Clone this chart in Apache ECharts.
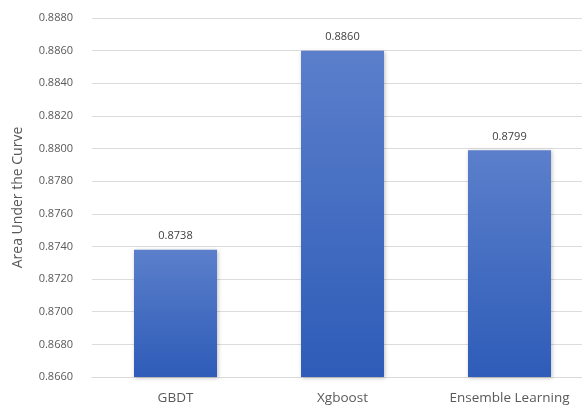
<!DOCTYPE html>
<html>
<head>
<meta charset="utf-8">
<script src="https://cdn.jsdelivr.net/npm/echarts@6/dist/echarts.min.js"></script>
<style>
  html, body { margin: 0; padding: 0; background: #fff; overflow: hidden; }
  #chart { width: 593px; height: 409px; }
</style>
</head>
<body>
<div id="chart"></div>
<script>
// chart data
var categories = ['GBDT', 'Xgboost', 'Ensemble Learning'];
var aucValues = [0.8738, 0.8860, 0.8799];
var yMin = 0.8660, yMax = 0.8880, yStep = 0.0020;

// the plot area runs a little past the right edge of the window, as in the original
var chart = echarts.init(document.getElementById('chart'));
var option = {
    animation: false,
    grid: {
        left: 92,
        top: 18,
        right: 0,
        bottom: 32
    },
    xAxis: {
        type: 'category',
        data: categories,
        axisLine: { show: true, lineStyle: { color: '#d9d9d9' } },
        axisTick: { show: false },
        axisLabel: {
            color: '#595959',
            fontFamily: 'Open Sans',
            fontSize: 13.5,
            margin: 14
        }
    },
    yAxis: {
        type: 'value',
        min: yMin,
        max: yMax,
        interval: yStep,
        name: 'Area Under the Curve',
        nameLocation: 'middle',
        nameGap: 67,
        nameTextStyle: {
            color: '#595959',
            fontFamily: 'Open Sans',
            fontSize: 14
        },
        axisLine: { show: false },
        axisTick: { show: false },
        splitLine: { lineStyle: { color: '#dcdcdc' } },
        axisLabel: {
            color: '#595959',
            fontFamily: 'Open Sans',
            fontSize: 11,
            margin: 19,
            formatter: function (v) { return v.toFixed(4); }
        }
    },
    series: [{
        type: 'bar',
        data: aucValues,
        barWidth: 83,
        itemStyle: {
            color: new echarts.graphic.LinearGradient(0, 0, 0, 1, [
                { offset: 0, color: '#5b7fcb' },
                { offset: 1, color: '#2e5cb8' }
            ]),
            shadowColor: 'rgba(0,0,0,0.25)',
            shadowBlur: 4,
            shadowOffsetX: 1,
            shadowOffsetY: 1
        },
        label: {
            show: true,
            position: 'top',
            distance: 8,
            color: '#404040',
            fontFamily: 'Open Sans',
            fontSize: 11,
            formatter: function (p) { return p.value.toFixed(4); }
        }
    }]
};
chart.setOption(option);
</script>
</body>
</html>
